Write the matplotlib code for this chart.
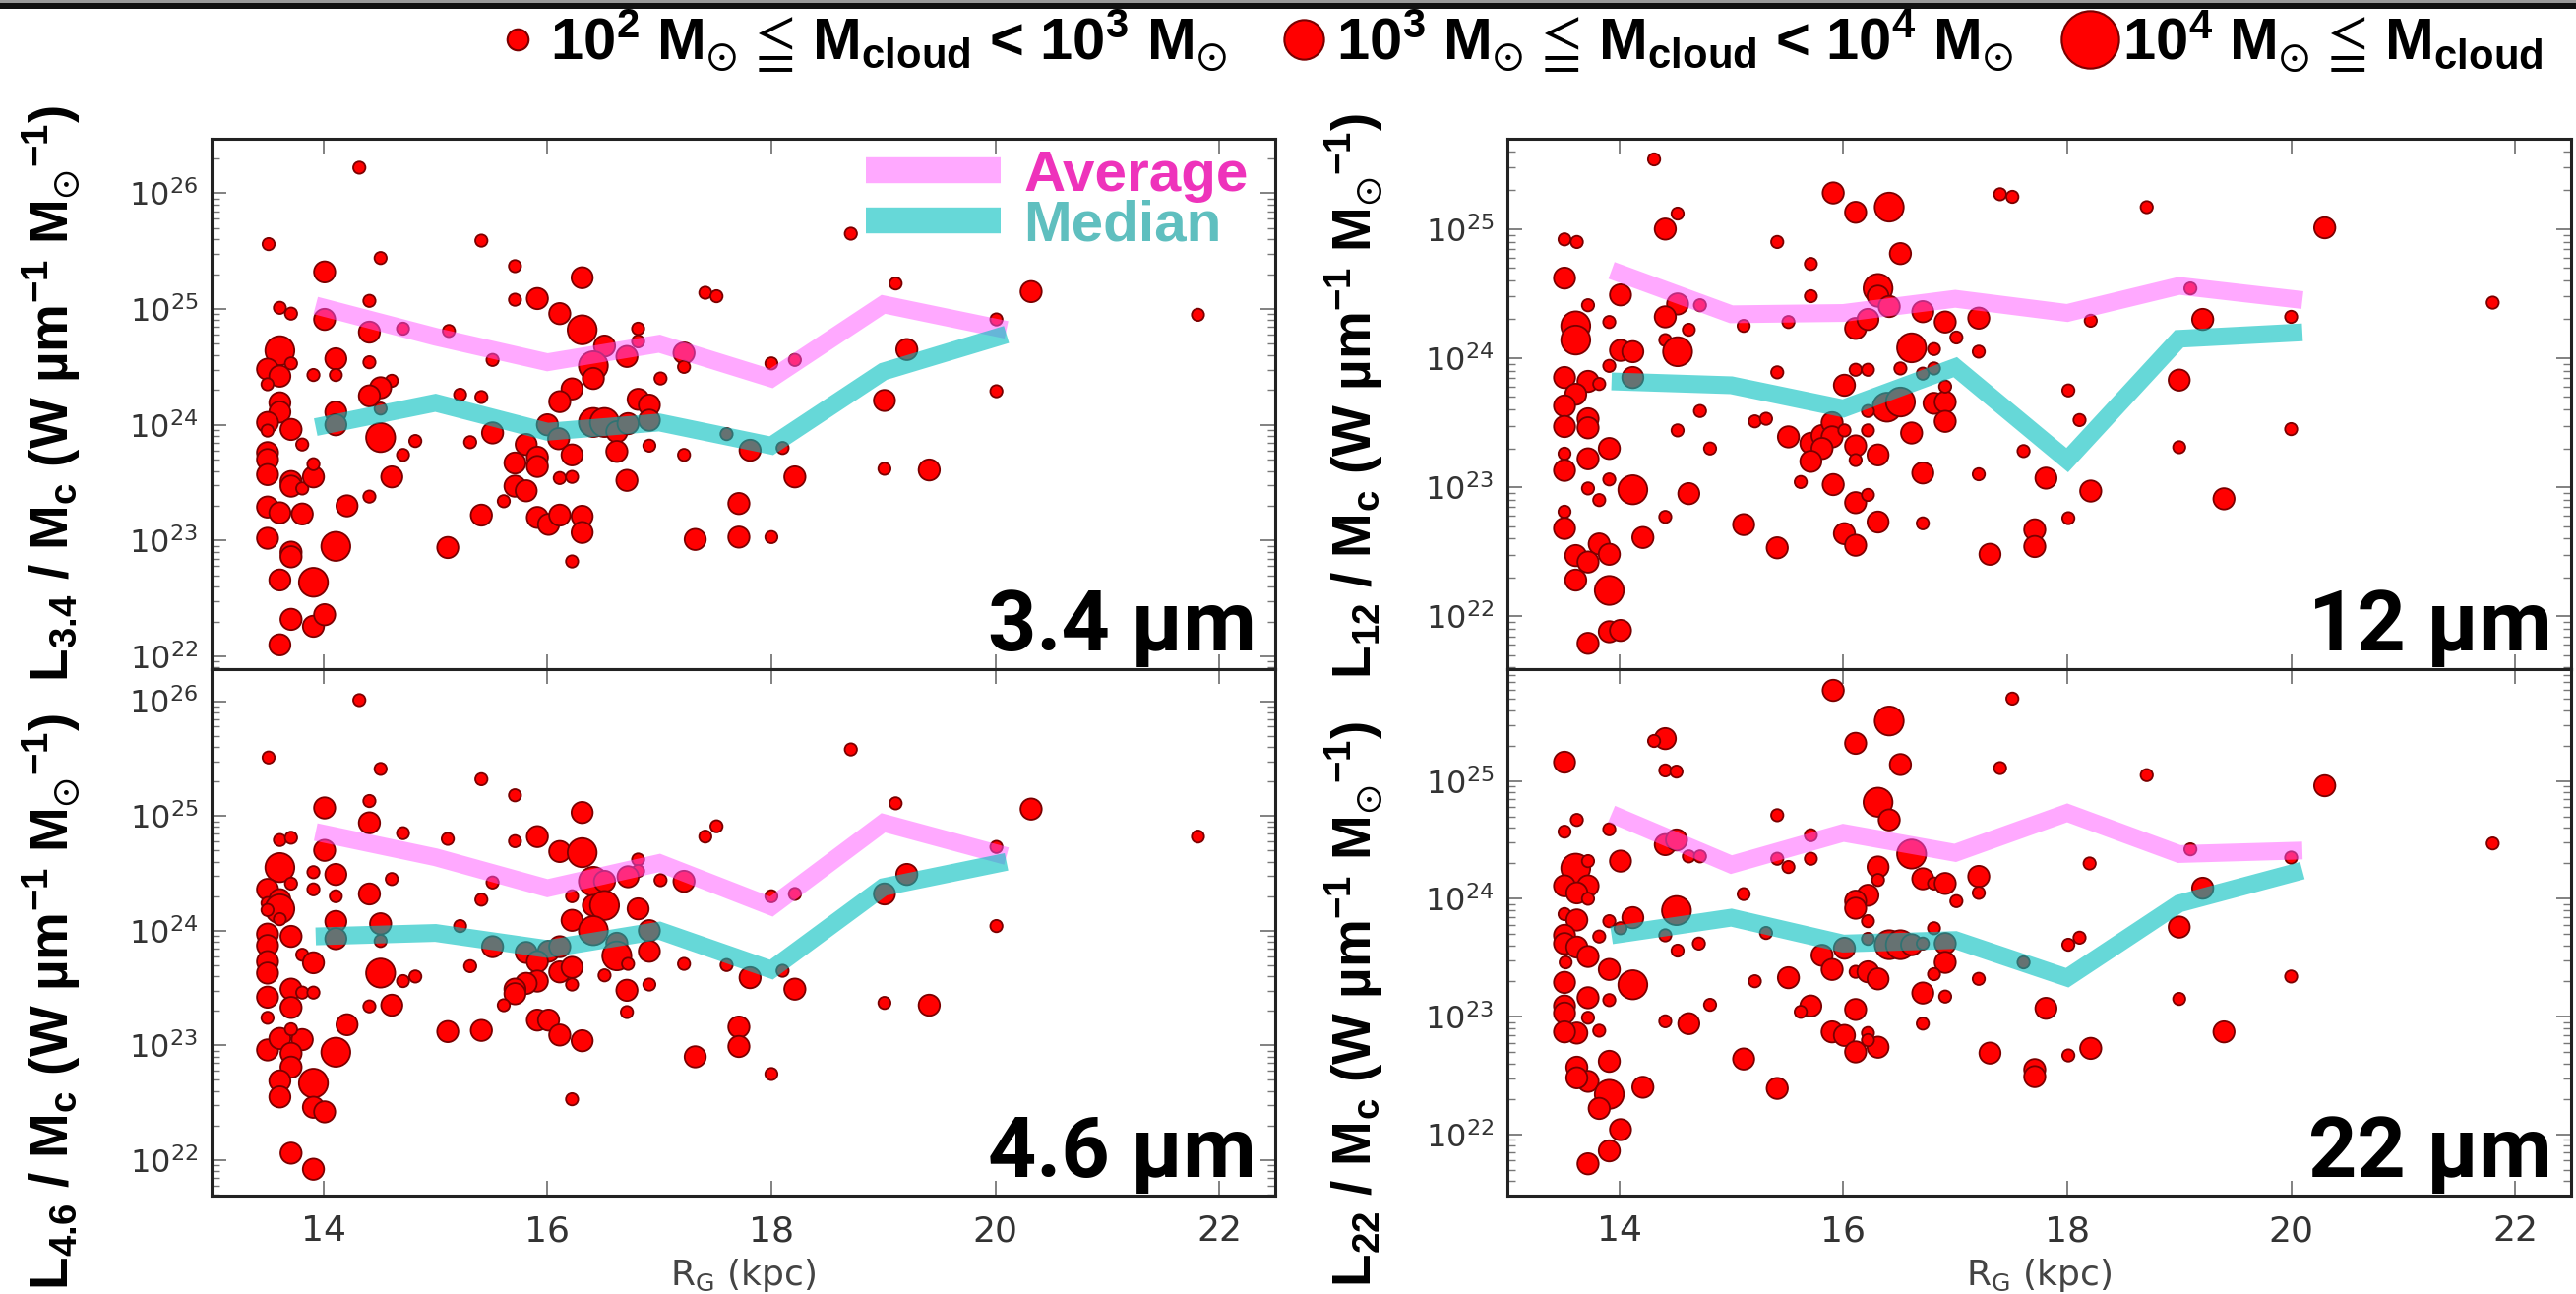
import numpy as np
import matplotlib
matplotlib.use('Agg')
import matplotlib.pyplot as plt
from matplotlib.lines import Line2D
from matplotlib.patches import Rectangle
from matplotlib.font_manager import FontProperties

plt.rcParams['mathtext.fontset'] = 'custom'
plt.rcParams['mathtext.rm'] = 'Liberation Sans:bold'
plt.rcParams['mathtext.bf'] = 'Liberation Sans:bold'
plt.rcParams['mathtext.it'] = 'Liberation Sans:bold'
plt.rcParams['mathtext.sf'] = 'Liberation Sans:bold'
plt.rcParams['mathtext.fallback'] = 'stixsans'

# ---------------- data ----------------
bin_R = [13.93, 15.0, 16.0, 17.0, 18.0, 19.0, 20.1]

# 3.4 um
w34_R = [14.32, 13.51, 15.41, 14.51, 14.01, 15.71, 16.31, 17.41, 13.61, 13.71, 14.41, 15.71, 15.91, 16.11, 14.01,
         14.41, 14.71, 15.12, 16.31, 16.81, 16.81, 16.51, 17.22, 16.71, 16.41, 15.51, 13.61, 13.50, 13.61, 13.71,
         13.50, 14.11, 13.91, 14.11, 14.41, 17.22, 16.41, 17.01, 14.61, 14.51, 14.41, 14.51, 15.22, 15.41, 16.22,
         16.11, 16.81, 16.91, 13.61, 13.61, 13.50, 13.71, 13.50, 14.11, 14.11, 13.81, 14.51, 14.82, 14.71, 15.31,
         15.51, 16.00, 16.10, 15.81, 15.91, 16.22, 16.41, 16.51, 16.62, 16.72, 16.91, 16.62, 16.91, 17.22, 13.50,
         13.50, 13.50, 13.71, 13.71, 13.81, 13.91, 13.91, 14.61, 15.71, 15.91, 15.71, 15.81, 16.11, 16.22, 16.71,
         15.61, 13.50, 13.61, 13.81, 14.21, 14.41, 15.41, 15.91, 16.01, 16.11, 16.31, 16.31, 16.22, 15.11, 17.32,
         13.50, 13.71, 13.71, 14.11, 13.61, 13.91, 13.71, 13.91, 14.01, 13.61,
         17.51, 18.71, 19.11, 20.32, 21.81, 20.01, 18.00, 18.21, 19.21, 19.01, 20.01, 17.60, 17.81, 18.10, 18.21,
         19.01, 19.41, 17.71, 17.71, 18.00]
w34_logL = [26.22, 25.56, 25.59, 25.44, 25.32, 25.37, 25.27, 25.14, 25.01, 24.96, 25.07, 25.08, 25.09, 24.96, 24.91,
            24.80, 24.83, 24.81, 24.82, 24.83, 24.72, 24.68, 24.62, 24.59, 24.51, 24.56, 24.64, 24.48, 24.42, 24.53,
            24.35, 24.57, 24.43, 24.43, 24.54, 24.50, 24.40, 24.40, 24.38, 24.32, 24.25, 24.14, 24.26, 24.24, 24.31,
            24.20, 24.22, 24.17, 24.19, 24.11, 24.02, 23.96, 23.95, 24.11, 24.00, 23.83, 23.89, 23.86, 23.74, 23.85,
            23.93, 24.00, 23.88, 23.83, 23.72, 23.74, 24.02, 24.02, 23.94, 24.01, 24.04, 23.77, 23.82, 23.74, 23.76,
            23.70, 23.57, 23.51, 23.47, 23.45, 23.55, 23.66, 23.55, 23.67, 23.64, 23.47, 23.43, 23.54, 23.55, 23.52,
            23.34, 23.29, 23.24, 23.23, 23.30, 23.38, 23.22, 23.20, 23.14, 23.22, 23.21, 23.07, 22.82, 22.94, 23.01,
            23.02, 22.90, 22.86, 22.95, 22.66, 22.64, 22.32, 22.26, 22.36, 22.10,
            25.11, 25.65, 25.22, 25.15, 24.95, 24.91, 24.53, 24.56, 24.65, 24.21, 24.29, 23.92, 23.78, 23.80, 23.55,
            23.62, 23.61, 23.32, 23.03, 23.03]
w34_mass = [1, 1, 1, 1, 2, 1, 2, 1, 1, 1, 1, 1, 2, 2, 2,
            2, 1, 1, 3, 1, 1, 2, 2, 2, 3, 1, 3, 2, 2, 1,
            1, 2, 1, 1, 1, 1, 2, 1, 1, 2, 2, 1, 1, 1, 2,
            2, 2, 2, 2, 2, 2, 2, 1, 2, 2, 1, 3, 1, 1, 1,
            2, 2, 2, 2, 2, 2, 3, 3, 2, 2, 2, 2, 1, 1, 2,
            2, 2, 2, 2, 1, 2, 1, 2, 2, 2, 2, 2, 1, 1, 2,
            1, 2, 2, 2, 2, 1, 2, 2, 2, 2, 2, 2, 1, 2, 2,
            2, 2, 2, 3, 2, 3, 2, 2, 2, 2,
            1, 1, 1, 2, 1, 1, 1, 1, 2, 2, 1, 1, 2, 1, 2,
            1, 2, 2, 2, 1]
w34_avg = [25.03, 24.76, 24.54, 24.70, 24.40, 25.04, 24.82]
w34_med = [23.98, 24.19, 23.94, 24.02, 23.82, 24.46, 24.78]

# 4.6 um
w46_R = [14.32, 13.51, 14.51, 15.41, 15.71, 14.01, 14.41, 14.41, 16.31, 13.61, 13.71, 14.71, 15.11, 15.71, 15.91,
         16.11, 16.31, 17.41, 16.81, 16.81, 14.01, 13.61, 13.91, 14.11, 14.61, 13.71, 13.50, 13.91, 14.41, 14.11,
         13.61, 15.51, 16.41, 16.51, 16.72, 17.01, 17.22, 16.22, 15.41, 13.50, 13.61, 16.41, 16.51, 16.81, 13.50,
         13.61, 16.22, 16.41, 16.91, 13.50, 13.71, 13.50, 14.11, 14.11, 14.51, 14.51, 15.22, 15.51, 15.81, 16.01,
         16.11, 16.62, 16.62, 16.91, 13.50, 13.81, 13.91, 13.50, 17.22, 15.31, 15.91, 16.11, 16.22, 16.72, 16.51,
         14.51, 14.71, 14.82, 15.91, 15.81, 15.71, 15.71, 15.61, 16.22, 16.91, 16.71, 16.71, 13.50, 13.71, 13.71,
         13.81, 13.91, 13.50, 14.41, 14.61, 14.21, 15.91, 16.01, 16.11, 16.31, 15.11, 15.41, 13.50, 13.61, 13.81,
         13.71, 13.71, 13.71, 14.11, 13.61, 13.91, 13.61, 13.91, 14.01, 17.32, 16.22, 13.71, 13.91,
         17.51, 18.71, 19.11, 20.32, 21.81, 20.01, 18.00, 18.21, 19.21, 19.01, 20.01, 17.60, 17.81, 18.10, 18.21,
         19.01, 19.41, 17.71, 17.71, 18.00]
w46_logL = [26.01, 25.51, 25.41, 25.32, 25.18, 25.07, 25.13, 24.94, 25.03, 24.79, 24.81, 24.85, 24.80, 24.78, 24.82,
            24.69, 24.68, 24.82, 24.62, 24.52, 24.70, 24.55, 24.51, 24.49, 24.45, 24.41, 24.36, 24.36, 24.32, 24.30,
            24.27, 24.42, 24.43, 24.43, 24.47, 24.44, 24.43, 24.30, 24.27, 24.24, 24.19, 24.22, 24.22, 24.19, 24.18,
            24.10, 24.09, 24.00, 24.00, 23.97, 23.95, 23.87, 24.08, 23.93, 24.06, 23.91, 24.04, 23.86, 23.81, 23.82,
            23.86, 23.89, 23.78, 23.82, 23.73, 23.79, 23.72, 23.63, 23.71, 23.69, 23.73, 23.64, 23.68, 23.71, 23.61,
            23.63, 23.56, 23.60, 23.56, 23.54, 23.49, 23.45, 23.35, 23.53, 23.53, 23.48, 23.29, 23.42, 23.49, 23.33,
            23.46, 23.46, 23.24, 23.34, 23.35, 23.18, 23.22, 23.22, 23.09, 23.04, 23.12, 23.13, 22.96, 23.06, 23.05,
            23.14, 22.93, 22.81, 22.94, 22.69, 22.67, 22.55, 22.46, 22.42, 22.90, 22.53, 22.06, 21.92,
            24.91, 25.58, 25.11, 25.06, 24.82, 24.73, 24.30, 24.32, 24.49, 24.32, 24.04, 23.70, 23.59, 23.65, 23.49,
            23.37, 23.35, 23.16, 22.99, 22.75]
w46_mass = [1, 1, 1, 1, 1, 2, 1, 2, 2, 1, 1, 1, 1, 1, 2,
            2, 3, 1, 1, 1, 2, 3, 1, 2, 1, 1, 2, 1, 2, 1,
            2, 1, 3, 2, 2, 1, 2, 1, 1, 1, 3, 2, 3, 2, 1,
            1, 2, 3, 2, 2, 2, 2, 2, 2, 2, 1, 1, 2, 2, 2,
            2, 2, 3, 2, 2, 1, 2, 2, 1, 1, 2, 2, 2, 1, 1,
            3, 1, 1, 2, 2, 2, 2, 1, 1, 1, 2, 1, 2, 2, 2,
            1, 1, 1, 1, 2, 2, 2, 2, 2, 2, 2, 2, 2, 2, 2,
            1, 2, 2, 3, 2, 3, 2, 2, 2, 2, 1, 2, 2,
            1, 1, 1, 2, 1, 1, 1, 1, 2, 2, 1, 1, 2, 1, 2,
            1, 2, 2, 2, 1]
w46_avg = [24.86, 24.64, 24.37, 24.59, 24.21, 24.94, 24.65]
w46_med = [23.95, 23.98, 23.84, 24.00, 23.66, 24.38, 24.60]

# 12 um
w12_R = [14.31, 13.51, 13.62, 14.41, 14.52, 13.51, 13.72, 14.01, 13.91, 13.61, 13.61, 14.52, 14.72, 14.41, 14.62,
         14.41, 14.52, 14.01, 14.12, 13.91, 14.12, 13.51, 13.72, 13.82, 13.61, 13.51, 13.72, 13.51, 13.72, 13.91,
         13.51, 13.51, 13.72, 14.72, 14.52, 14.81, 13.91, 14.12, 13.72, 13.82, 14.62, 13.51, 13.51, 14.41, 14.21,
         13.82, 13.91, 13.61, 13.72, 13.61, 13.91, 13.91, 14.01, 13.72, 15.11, 15.41, 15.91, 16.11, 16.41, 16.51,
         15.41, 15.71, 15.71, 16.31, 16.31, 15.11, 15.51, 16.11, 16.22, 16.41, 16.71, 16.91, 17.21, 17.01, 16.61,
         16.81, 17.21, 15.41, 16.11, 16.22, 16.51, 16.71, 16.81, 16.01, 16.39, 16.51, 16.81, 16.91, 16.91, 16.91,
         16.22, 16.61, 15.21, 15.31, 15.51, 15.71, 15.81, 15.90, 15.90, 15.81, 16.01, 16.11, 16.22, 16.31, 16.11,
         15.71, 16.71, 17.21, 15.62, 15.91, 16.11, 16.22, 16.31, 16.71, 16.01, 16.11, 17.31, 17.40,
         17.51, 18.71, 20.30, 19.10, 21.80, 20.00, 19.21, 18.21, 19.00, 18.01, 18.11, 17.61, 19.00, 20.00, 17.81,
         18.21, 18.01, 19.40, 17.71, 17.71]
w12_logL = [25.54, 24.92, 24.90, 25.00, 25.12, 24.62, 24.41, 24.49, 24.28, 24.25, 24.14, 24.42, 24.41, 24.32, 24.22,
            24.14, 24.05, 24.06, 24.05, 23.94, 23.85, 23.85, 23.82, 23.80, 23.72, 23.63, 23.53, 23.47, 23.46, 23.30,
            23.26, 23.13, 23.22, 23.59, 23.44, 23.30, 23.06, 22.98, 22.99, 22.90, 22.95, 22.81, 22.68, 22.77, 22.61,
            22.56, 22.48, 22.47, 22.42, 22.28, 22.20, 21.88, 21.89, 21.79, 22.71, 22.53, 25.28, 25.13, 25.17, 24.81,
            24.90, 24.73, 24.48, 24.54, 24.48, 24.25, 24.28, 24.23, 24.30, 24.40, 24.36, 24.28, 24.31, 24.16, 24.08,
            24.07, 24.05, 23.89, 23.91, 23.91, 23.92, 23.88, 23.92, 23.79, 23.62, 23.66, 23.65, 23.66, 23.78, 23.51,
            23.59, 23.42, 23.51, 23.53, 23.39, 23.34, 23.40, 23.50, 23.39, 23.30, 23.44, 23.32, 23.44, 23.25, 23.21,
            23.20, 23.11, 23.10, 23.04, 23.02, 22.88, 22.94, 22.73, 22.72, 22.64, 22.55, 22.48, 25.27,
            25.25, 25.17, 25.01, 24.54, 24.43, 24.32, 24.30, 24.29, 23.83, 23.75, 23.52, 23.28, 23.31, 23.45, 23.07,
            22.97, 22.76, 22.91, 22.67, 22.54]
w12_mass = [1, 1, 1, 2, 1, 2, 1, 2, 1, 3, 3, 2, 1, 2, 1,
            1, 3, 2, 2, 1, 2, 2, 2, 1, 2, 2, 2, 2, 2, 2,
            1, 2, 2, 1, 1, 1, 1, 3, 1, 1, 2, 1, 2, 1, 2,
            2, 2, 2, 2, 2, 3, 2, 2, 2, 2, 2, 2, 2, 3, 2,
            1, 1, 1, 3, 2, 1, 1, 2, 2, 2, 2, 2, 2, 1, 3,
            1, 1, 1, 1, 1, 1, 1, 1, 2, 3, 3, 2, 2, 1, 2,
            1, 2, 1, 1, 2, 2, 2, 2, 2, 2, 1, 2, 1, 2, 1,
            2, 2, 1, 1, 2, 2, 1, 2, 1, 2, 2, 2, 1,
            1, 1, 2, 1, 1, 1, 2, 1, 2, 1, 1, 1, 1, 1, 2,
            2, 1, 2, 2, 2]
w12_avg = [24.68, 24.34, 24.35, 24.46, 24.35, 24.56, 24.45]
w12_med = [23.82, 23.79, 23.61, 23.93, 23.21, 24.15, 24.20]

# 22 um
w22_R = [15.91, 16.41, 16.11, 16.51, 14.41, 14.31, 14.41, 14.51, 13.51, 17.40, 13.62, 13.51, 13.91, 15.41, 15.71,
         15.71, 15.51, 15.41, 16.31, 16.41, 16.61, 14.41, 14.51, 14.62, 14.72, 14.01, 13.61, 13.72, 13.51, 13.72,
         13.62, 13.72, 16.31, 16.31, 16.71, 16.81, 16.91, 17.01, 17.21, 17.21, 15.11, 16.22, 16.11, 16.11, 16.22,
         14.51, 14.12, 13.91, 14.01, 14.41, 13.51, 13.62, 13.51, 13.51, 13.62, 13.72, 13.52, 13.91, 13.82, 15.31,
         15.81, 16.01, 16.22, 16.41, 16.51, 16.61, 16.71, 16.81, 16.91, 16.91, 16.81, 15.90, 16.11, 16.22, 16.31,
         14.71, 14.52, 14.12, 13.51, 13.72, 13.91, 13.51, 13.51, 13.72, 13.62, 13.51, 13.82, 14.81, 15.21, 15.51,
         16.71, 16.91, 17.21, 15.71, 15.62, 16.11, 15.90, 16.01, 16.11, 16.22, 16.31, 16.22, 16.71, 14.41, 14.62,
         15.11, 15.41, 17.31, 13.62, 13.72, 13.91, 13.91, 13.82, 14.21, 14.01, 13.91, 13.72, 13.62,
         17.51, 18.71, 20.30, 21.80, 18.20, 19.10, 20.00, 19.21, 19.00, 18.01, 18.11, 17.61, 20.00, 19.00, 17.81,
         19.40, 18.21, 18.01, 17.71, 17.71]
w22_logL = [25.77, 25.51, 25.32, 25.14, 25.36, 25.34, 25.09, 25.08, 25.16, 25.11, 24.67, 24.57, 24.59, 24.71, 24.54,
            24.34, 24.27, 24.34, 24.82, 24.67, 24.38, 24.46, 24.50, 24.36, 24.36, 24.32, 24.26, 24.32, 24.11, 24.11,
            24.05, 24.00, 24.27, 24.16, 24.17, 24.13, 24.13, 23.98, 24.19, 24.05, 24.04, 24.03, 23.98, 23.92, 23.81,
            23.90, 23.84, 23.81, 23.75, 23.69, 23.87, 23.82, 23.69, 23.62, 23.59, 23.51, 23.46, 23.40, 23.68, 23.71,
            23.52, 23.58, 23.66, 23.61, 23.61, 23.61, 23.62, 23.75, 23.62, 23.46, 23.36, 23.40, 23.38, 23.38, 23.32,
            23.62, 23.56, 23.27, 23.29, 23.16, 23.14, 23.09, 23.03, 22.99, 22.86, 22.87, 22.88, 23.10, 23.30, 23.33,
            23.20, 23.17, 23.32, 23.09, 23.04, 23.06, 22.87, 22.84, 22.70, 22.86, 22.74, 22.80, 22.94, 22.96, 22.94,
            22.64, 22.39, 22.69, 22.57, 22.45, 22.62, 22.34, 22.22, 22.40, 22.04, 21.86, 21.75, 22.48,
            25.70, 25.05, 24.96, 24.47, 24.30, 24.42, 24.35, 24.09, 23.76, 23.61, 23.67, 23.46, 23.34, 23.15, 23.07,
            22.87, 22.73, 22.67, 22.55, 22.49]
w22_mass = [2, 3, 2, 2, 2, 1, 1, 1, 2, 1, 1, 1, 1, 1, 1,
            1, 1, 1, 3, 2, 3, 2, 2, 1, 1, 2, 3, 1, 2, 2,
            2, 1, 2, 1, 2, 1, 2, 1, 2, 1, 1, 2, 2, 2, 1,
            3, 2, 1, 1, 1, 1, 2, 2, 2, 2, 2, 1, 2, 1, 1,
            2, 2, 1, 3, 3, 2, 1, 1, 2, 2, 1, 2, 1, 2, 2,
            1, 1, 3, 2, 2, 1, 2, 2, 1, 2, 2, 1, 1, 1, 2,
            2, 1, 1, 2, 1, 2, 2, 2, 2, 1, 2, 1, 1, 1, 2,
            2, 2, 2, 2, 2, 2, 3, 2, 2, 2, 2, 2, 2,
            1, 1, 2, 1, 1, 1, 1, 2, 2, 1, 1, 1, 1, 1, 2,
            2, 2, 1, 2, 2]
w22_avg = [24.72, 24.29, 24.56, 24.39, 24.73, 24.38, 24.41]
w22_med = [23.69, 23.84, 23.62, 23.65, 23.33, 23.96, 24.24]

band_names = ['3.4', '4.6', '12', '22']
mass_labels = [r'10$^{2}$ M$_{\odot}$ $≦$ M$_{\rm cloud}$ < 10$^{3}$ M$_{\odot}$',
               r'10$^{3}$ M$_{\odot}$ $≦$ M$_{\rm cloud}$ < 10$^{4}$ M$_{\odot}$',
               r'10$^{4}$ M$_{\odot}$ $≦$ M$_{\rm cloud}$']

# ---------------- style ----------------
W, H = 2618, 1315
fig = plt.figure(figsize=(W / 100, H / 100), dpi=100)

size_map = {1: 80, 2: 240, 3: 450}
face = '#ff0000'
edge = '#7a0000'
avg_col, avg_alpha = '#ff55ff', 0.5
med_col, med_alpha = '#00bfbf', 0.6

colL, colR, colW = 215 / W, 1532 / W, 1081 / W
top_b, top_h = 1 - 680 / H, 539 / H
bot_b, bot_h = 1 - 1215 / H, 535 / H

panels = [
    (w34_R, w34_logL, w34_mass, w34_avg, w34_med, [colL, top_b, colW, top_h], (21.89, 26.47), False),
    (w46_R, w46_logL, w46_mass, w46_avg, w46_med, [colL, bot_b, colW, bot_h], (21.69, 26.28), True),
    (w12_R, w12_logL, w12_mass, w12_avg, w12_med, [colR, top_b, colW, top_h], (21.59, 25.70), False),
    (w22_R, w22_logL, w22_mass, w22_avg, w22_med, [colR, bot_b, colW, bot_h], (21.48, 25.95), True),
]

axes = []
for i, (R, logL, mass, avg, med, pos, ylog, bottom) in enumerate(panels):
    ax = fig.add_axes(pos)
    axes.append(ax)
    ax.scatter(R, 10 ** np.array(logL), s=[size_map[m] for m in mass], c=face,
               edgecolors=edge, linewidths=1.3, zorder=2)
    ax.plot(bin_R, 10 ** np.array(avg), color=avg_col, alpha=avg_alpha, lw=13,
            solid_capstyle='butt', solid_joinstyle='miter', zorder=3)
    ax.plot(bin_R, 10 ** np.array(med), color=med_col, alpha=med_alpha, lw=13,
            solid_capstyle='butt', solid_joinstyle='miter', zorder=3)
    ax.set_yscale('log')
    ax.set_xlim(13.0, 22.5)
    ax.set_ylim(10 ** ylog[0], 10 ** ylog[1])
    ax.set_xticks([14, 16, 18, 20, 22])
    ax.tick_params(axis='both', which='major', direction='in', length=11, width=1.3,
                   color='#777777', top=True, right=True, labelcolor='#333333')
    ax.tick_params(axis='both', which='minor', direction='in', length=5.5, width=1.0,
                   color='#777777', top=True, right=True)
    ax.tick_params(axis='y', which='major', labelsize=23, pad=10)
    ax.tick_params(axis='x', which='major', labelsize=26, pad=14)
    for sp in ax.spines.values():
        sp.set_linewidth(2.2)
        sp.set_color('#222222')
    if bottom:
        ax.set_xlabel(r'R$_{\mathdefault{G}}$ (kpc)', fontsize=26, color='#444444', labelpad=6)
    else:
        ax.tick_params(axis='x', which='both', labelbottom=False)
    ax.text(0.982, 0.035, band_names[i] + ' µm', transform=ax.transAxes, ha='right', va='baseline',
            fontsize=62, fontweight='bold', family='Roboto', color='black', zorder=5)

# Average / Median legend in first panel
leg_handles = [Line2D([], [], color=avg_col, alpha=avg_alpha, lw=19, solid_capstyle='butt'),
               Line2D([], [], color=med_col, alpha=med_alpha, lw=19, solid_capstyle='butt')]
axes[0].legend(leg_handles, ['Average', 'Median'], loc='upper right', bbox_to_anchor=(0.975, 0.98),
               frameon=False, prop=FontProperties(family='Liberation Sans', weight='bold', size=42),
               handlelength=2.35, handletextpad=0.4, labelspacing=-0.05, borderpad=0, borderaxespad=0,
               labelcolor=['#ee33bb', '#5fbfbf'])

# y labels
ylab_prop = dict(fontsize=39.5, fontweight='bold', family=['Liberation Sans', 'DejaVu Sans'],
                 rotation=90, ha='center', va='center')
fig.text(52 / W, 1 - 400 / H, r'L$_{3.4}$ / M$_{\rm c}$ (W µm$^{-1}$ M$_{\odot}$$^{-1}$)', **ylab_prop)
fig.text(52 / W, 1 - 1018 / H, r'L$_{4.6}$ / M$_{\rm c}$ (W µm$^{-1}$ M$_{\odot}$$^{-1}$)', **ylab_prop)
fig.text(1376 / W, 1 - 402 / H, r'L$_{12}$ / M$_{\rm c}$ (W µm$^{-1}$ M$_{\odot}$$^{-1}$)', **ylab_prop)
fig.text(1376 / W, 1 - 1020 / H, r'L$_{22}$ / M$_{\rm c}$ (W µm$^{-1}$ M$_{\odot}$$^{-1}$)', **ylab_prop)

# mass-class legend
mass_handles = [Line2D([], [], ls='none', marker='o', markersize=ms, markerfacecolor=face,
                       markeredgecolor=edge, markeredgewidth=1.5) for ms in (15.5, 29, 42)]
fig.legend(mass_handles, mass_labels, loc='center right', bbox_to_anchor=(0.987, 1 - 42 / H), ncol=3,
           frameon=False, prop=FontProperties(family=['Liberation Sans', 'DejaVu Sans'], weight='bold', size=43),
           handlelength=0.8, handletextpad=0.15, columnspacing=0.9, borderpad=0, borderaxespad=0)

# top rule
fig.add_artist(Rectangle((0, 1 - 3 / H), 1, 3 / H, transform=fig.transFigure, color='#9a9a9a', lw=0))
fig.add_artist(Rectangle((0, 1 - 9 / H), 1, 6 / H, transform=fig.transFigure, color='#111111', lw=0))

fig.savefig('out.png', dpi=100)
